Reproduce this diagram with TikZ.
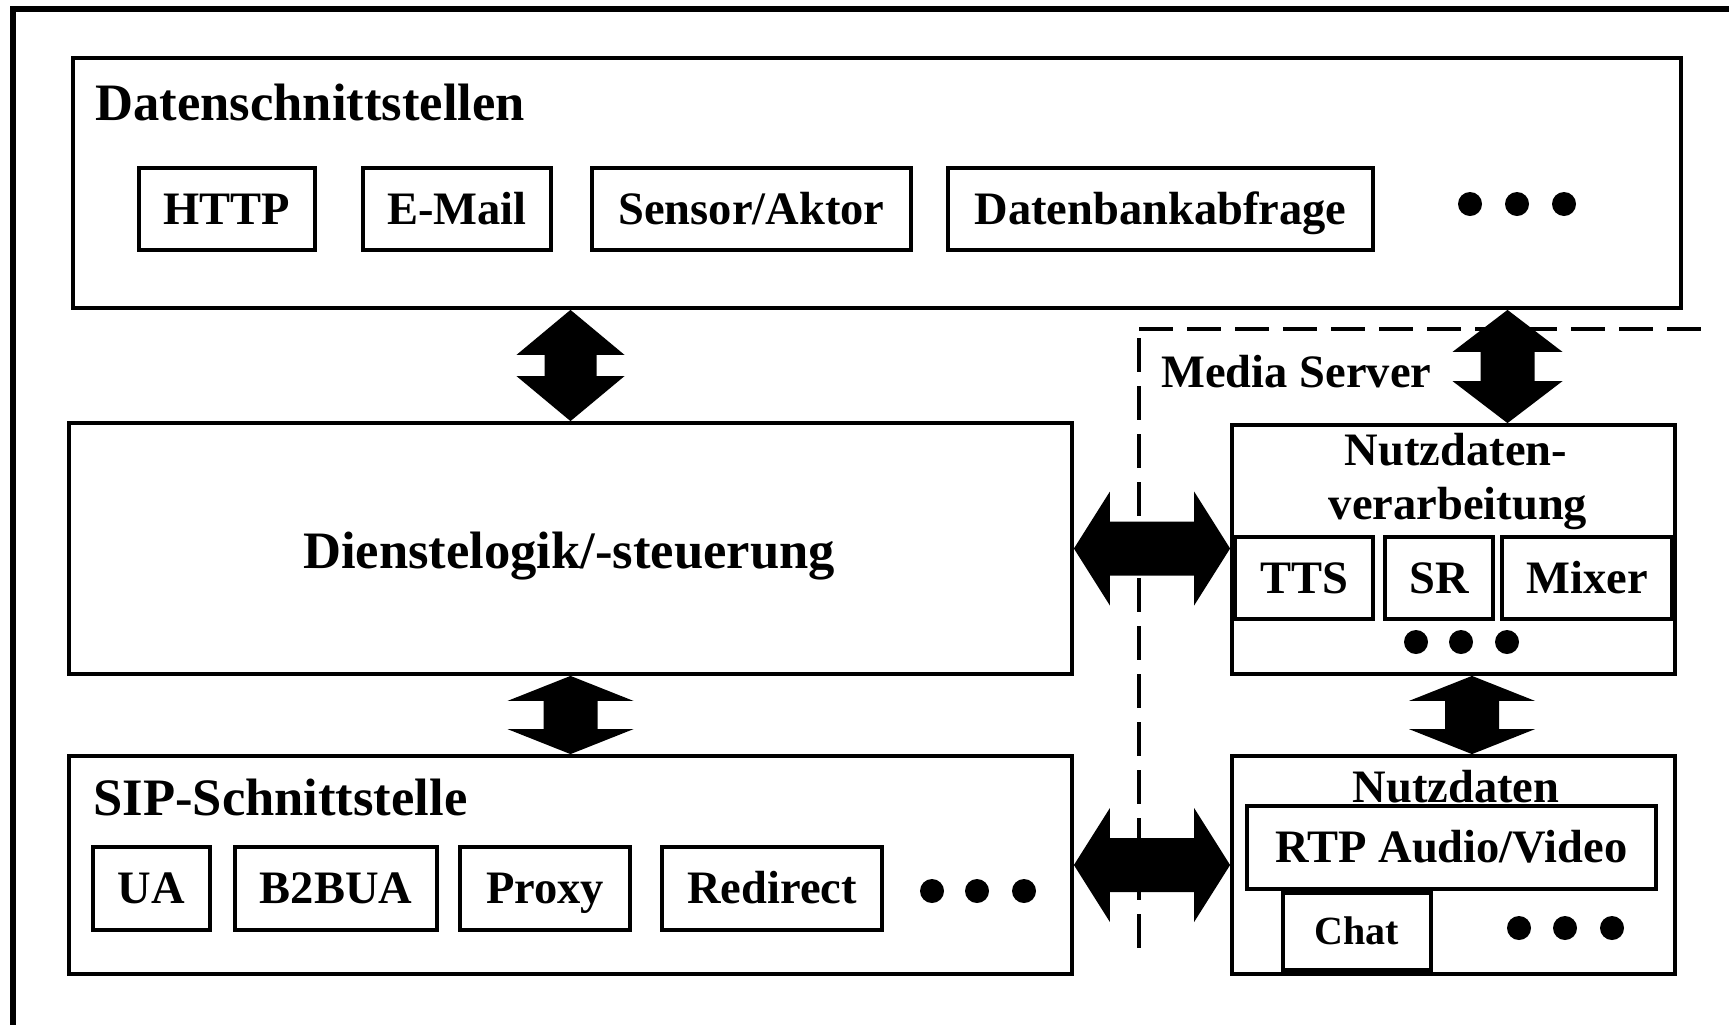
\documentclass[tikz,border=0pt]{standalone}
\usepackage{fontspec}
\setmainfont{Liberation Serif}
\usetikzlibrary{calc,fit}
\newcommand\lblfont{\bfseries\fontsize{23.25pt}{28pt}\selectfont}
\newcommand\ttlfont{\bfseries\fontsize{26.3pt}{31pt}\selectfont}
\newcommand\smlfont{\bfseries\fontsize{20pt}{24pt}\selectfont}
% vertical double block arrow: #1 upper point, #2 lower point, #3 head half width, #4 head length, #5 shaft half width
\newcommand\blockV[5]{\fill let \p1=(#1), \p2=(#2) in (\x1,\y1) -- ($(\x1,\y1)+(#3,#4)$) -- ($(\x1,\y1)+(#5,#4)$) -- ($(\x2,\y2)+(#5,-#4)$) -- ($(\x2,\y2)+(#3,-#4)$) -- (\x2,\y2) -- ($(\x2,\y2)+(-#3,-#4)$) -- ($(\x2,\y2)+(-#5,-#4)$) -- ($(\x1,\y1)+(-#5,#4)$) -- ($(\x1,\y1)+(-#3,#4)$) -- cycle;}
% horizontal double block arrow: #1 left point, #2 right point
\newcommand\blockH[5]{\fill let \p1=(#1), \p2=(#2) in (\x1,\y1) -- ($(\x1,\y1)+(#4,-#3)$) -- ($(\x1,\y1)+(#4,-#5)$) -- ($(\x2,\y2)+(-#4,-#5)$) -- ($(\x2,\y2)+(-#4,-#3)$) -- (\x2,\y2) -- ($(\x2,\y2)+(-#4,#3)$) -- ($(\x2,\y2)+(-#4,#5)$) -- ($(\x1,\y1)+(#4,#5)$) -- ($(\x1,\y1)+(#4,#3)$) -- cycle;}
\tikzset{
  frameline/.style={line width=3pt},
  bigbox/.style={draw, rectangle, line width=1.9pt, inner sep=0pt},
  ibox/.style={draw, rectangle, line width=1.9pt, inner sep=0pt},
  boxtext/.style={font=\lblfont, inner sep=0pt, text height=21pt, text depth=5.6pt, anchor=center},
  smalltext/.style={font=\smlfont, inner sep=0pt, text height=18pt, text depth=4.8pt, anchor=center},
  title/.style={font=\ttlfont, inner sep=0pt},
  lbl/.style={font=\lblfont, inner sep=0pt},
  dot/.style={circle, fill=black, draw=none, inner sep=0pt, minimum size=12pt},
  msline/.style={line width=2pt, dash pattern=on 17pt off 7pt},
}
\begin{document}
\begin{tikzpicture}[x=0.5pt, y=-0.5pt]
\useasboundingbox (0,0) rectangle (1729,1024);
% outer frame (left and top only)
\draw[frameline] (13,1040) -- (13,9) -- (1745,9);

% Datenschnittstellen
\node[bigbox, fit={(73,58)(1681,308)}] (ds) {};
\node[title, anchor=base west] (dst) at (95,120) {Datenschnittstellen};
\node[ibox, fit={(139,168)(315,250)}] (http) {};
\node[boxtext] (httpt) at (http.center) {HTTP};
\node[ibox, fit={(363,168)(551,250)}] (mail) {};
\node[boxtext] (mailt) at (mail.center) {E-Mail};
\node[ibox, fit={(592,168)(911,250)}] (sens) {};
\node[boxtext] (senst) at (sens.center) {Sensor/Aktor};
\node[ibox, fit={(948,168)(1373,250)}] (db) {};
\node[boxtext] (dbt) at (db.center) {Datenbankabfrage};
\node[dot] (dd1) at (1470,204) {};
\node[dot] (dd2) at (1517,204) {};
\node[dot] (dd3) at (1564,204) {};

% Dienstelogik
\node[bigbox, fit={(69,423)(1072,674)}] (dl) {};
\node[title, anchor=base] (dlt) at (569,568) {Dienstelogik/-steuerung};

% SIP
\node[bigbox, fit={(69,756)(1072,974)}] (sip) {};
\node[title, anchor=base west] (sipt) at (93,815) {SIP-Schnittstelle};
\node[ibox, fit={(93,847)(210,930)}] (ua) {};
\node[boxtext] (uat) at (ua.center) {UA};
\node[ibox, fit={(235,847)(437,930)}] (b2b) {};
\node[boxtext] (b2bt) at (b2b.center) {B2BUA};
\node[ibox, fit={(460,847)(630,930)}] (proxy) {};
\node[boxtext] (proxyt) at (proxy.center) {Proxy};
\node[ibox, fit={(662,847)(882,930)}] (redir) {};
\node[boxtext] (redirt) at (redir.center) {Redirect};
\node[dot] (sd1) at (932,891) {};
\node[dot] (sd2) at (977,891) {};
\node[dot] (sd3) at (1024,891) {};

% Media server region
\draw[msline] (1139,329) -- (1708,329);
\draw[msline] (1139,338) -- (1139,955);
\node[lbl, anchor=base west] (mst) at (1161,387) {Media Server};

% Nutzdatenverarbeitung
\node[bigbox, fit={(1232,425)(1675,674)}] (nv) {};
\node[lbl, anchor=base] (nvt1) at (1456,465) {Nutzdaten-};
\node[lbl, anchor=base] (nvt2) at (1458,519) {verarbeitung};
\node[ibox, fit={(1235,537)(1373,619)}] (tts) {};
\node[boxtext] (ttst) at (tts.center) {TTS};
\node[ibox, fit={(1385,537)(1493,619)}] (sr) {};
\node[boxtext] (srt) at (sr.center) {SR};
\node[ibox, fit={(1502,537)(1672,619)}] (mix) {};
\node[boxtext] (mixt) at (mix.center) {Mixer};
\node[dot] (nd1) at (1416,642) {};
\node[dot] (nd2) at (1461,642) {};
\node[dot] (nd3) at (1507,642) {};

% Nutzdaten
\node[bigbox, fit={(1232,756)(1675,974)}] (nd) {};
\node[lbl, anchor=base] (ndt) at (1456,802) {Nutzdaten};
\node[ibox, fit={(1247,806)(1656,889)}] (rtp) {};
\node[boxtext] (rtpt) at (rtp.center) {RTP Audio/Video};
\node[ibox, fit={(1283,893)(1431,970)}] (chat) {};
\node[smalltext] (chatt) at (chat.center) {Chat};
\node[dot] (ud1) at (1519,928) {};
\node[dot] (ud2) at (1565,928) {};
\node[dot] (ud3) at (1612,928) {};

% connectors
\coordinate (a3b) at ([xshift=27pt]nv.north);
\coordinate (a3t) at (ds.south -| a3b);
\coordinate (a4t) at ([xshift=9.25pt]nv.south);
\coordinate (a4b) at (nd.north -| a4t);
\blockV{ds.south -| dl.north}{dl.north}{54}{45}{26}
\blockV{dl.south}{sip.north}{63}{25}{27}
\blockV{a3t}{a3b}{55}{42}{27}
\blockV{a4t}{a4b}{63}{25}{27}
\blockH{dl.east}{dl.east -| nv.west}{57}{36}{27}
\blockH{sip.east}{sip.east -| nd.west}{57}{36}{27}
\end{tikzpicture}
\end{document}
